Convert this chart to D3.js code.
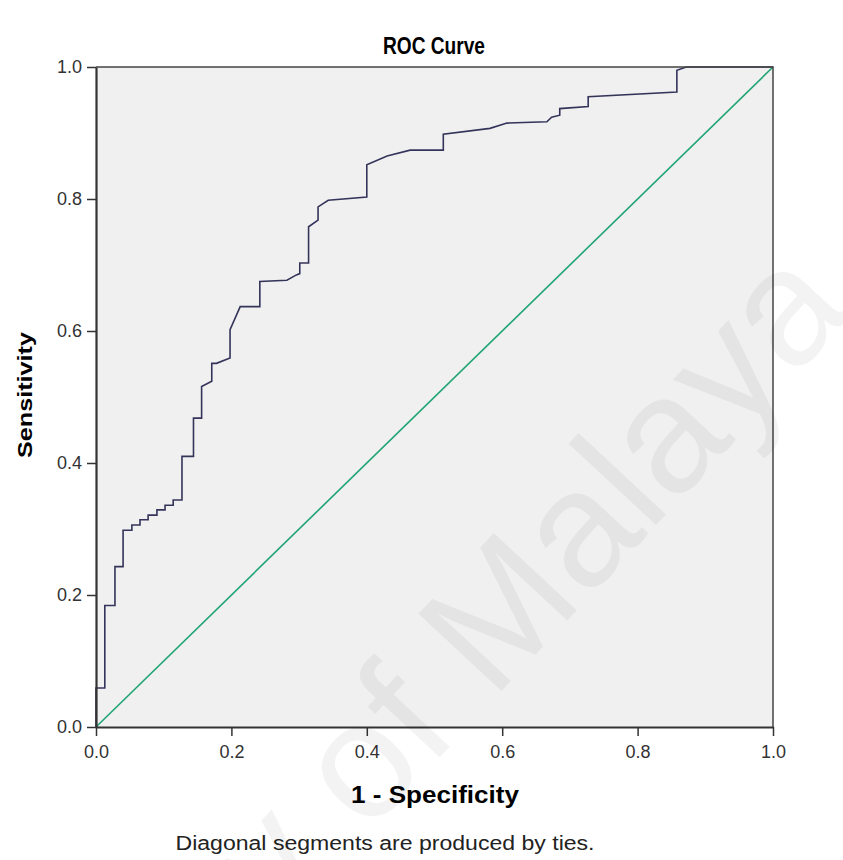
<!DOCTYPE html>
<html>
<head>
<meta charset="utf-8">
<script src="https://cdn.jsdelivr.net/npm/d3@7"></script>
<style>
  body { margin: 0; background: #fff; }
  text { font-family: "Liberation Sans", Arial, sans-serif; }
</style>
</head>
<body>
<script>
// ROC points (1 - specificity, sensitivity)
var fpr = [0, 0, 0.013, 0.013, 0.028, 0.028, 0.040, 0.040,
  0.053, 0.053, 0.065, 0.065, 0.077, 0.077, 0.090, 0.090, 0.102, 0.102, 0.114, 0.114, 0.127, 0.127,
  0.144, 0.144, 0.156, 0.156, 0.171, 0.171, 0.178, 0.198, 0.198, 0.213, 0.242, 0.242, 0.282, 0.296,
  0.301, 0.301, 0.314, 0.314, 0.328, 0.328, 0.343, 0.400, 0.400, 0.430, 0.464, 0.513, 0.513,
  0.582, 0.607, 0.666, 0.673, 0.685, 0.685, 0.727, 0.727, 0.858, 0.858, 0.872, 1.0];
var tpr = [0, 0.059, 0.059, 0.184, 0.184, 0.243, 0.243, 0.298,
  0.298, 0.306, 0.306, 0.314, 0.314, 0.321, 0.321, 0.329, 0.329, 0.336, 0.336, 0.344, 0.344, 0.410,
  0.410, 0.468, 0.468, 0.516, 0.524, 0.551, 0.551, 0.559, 0.602, 0.637, 0.637, 0.675, 0.677, 0.685,
  0.687, 0.703, 0.703, 0.758, 0.768, 0.788, 0.798, 0.803, 0.852, 0.865, 0.874, 0.874, 0.898,
  0.907, 0.915, 0.917, 0.924, 0.927, 0.937, 0.940, 0.955, 0.962, 0.995, 1.0, 1.0];
var ticks = [0, 0.2, 0.4, 0.6, 0.8, 1.0];

var W = 843, H = 860;
var svg = d3.select("body").append("svg")
    .attr("width", W)
    .attr("height", H);

var x = d3.scaleLinear().domain([0, 1]).range([96, 773]);
var y = d3.scaleLinear().domain([0, 1]).range([727, 67]);

// plot background
svg.append("rect")
    .attr("x", x(0)).attr("y", y(1))
    .attr("width", x(1) - x(0)).attr("height", y(0) - y(1))
    .attr("fill", "#f0f0f0");

// reference diagonal
svg.append("line")
    .attr("x1", x(0)).attr("y1", y(0))
    .attr("x2", x(1)).attr("y2", y(1))
    .attr("stroke", "#1fa474")
    .attr("stroke-width", 1.6);

// ROC curve
var pts = fpr.map(function(d, i) { return [d, tpr[i]]; });
var line = d3.line()
    .x(function(d) { return x(d[0]); })
    .y(function(d) { return y(d[1]); });
svg.append("path")
    .datum(pts)
    .attr("d", line)
    .attr("fill", "none")
    .attr("stroke", "#34345a")
    .attr("stroke-width", 1.6);

// frame (top, right)
svg.append("path")
    .attr("d", "M" + x(0) + "," + y(1) + "H" + x(1) + "V" + y(0))
    .attr("fill", "none")
    .attr("stroke", "#444")
    .attr("stroke-width", 1.5);

var xAxis = svg.append("g")
    .attr("transform", "translate(0," + y(0) + ")")
    .call(d3.axisBottom(x).tickValues(ticks).tickFormat(d3.format(".1f")).tickSize(9).tickSizeOuter(0));
var yAxis = svg.append("g")
    .attr("transform", "translate(" + x(0) + ",0)")
    .call(d3.axisLeft(y).tickValues(ticks).tickFormat(d3.format(".1f")).tickSize(9).tickSizeOuter(0));

[xAxis, yAxis].forEach(function(g) {
  g.select(".domain").attr("stroke", "#333").attr("stroke-width", 2.2);
  g.selectAll(".tick line").attr("stroke", "#333").attr("stroke-width", 1.5);
  g.selectAll(".tick text")
    .style("font-family", "'Liberation Sans', Arial, sans-serif")
    .style("font-size", "18px")
    .attr("fill", "#333");
});
xAxis.selectAll(".tick text").attr("y", 31).attr("dy", 0);
yAxis.selectAll(".tick text").attr("x", -14);

// titles
svg.append("text")
    .attr("x", 434).attr("y", 54)
    .attr("text-anchor", "middle")
    .attr("textLength", 102).attr("lengthAdjust", "spacingAndGlyphs")
    .style("font-size", "23px").style("font-weight", "bold")
    .text("ROC Curve");

svg.append("text")
    .attr("x", 435).attr("y", 803)
    .attr("text-anchor", "middle")
    .attr("textLength", 168).attr("lengthAdjust", "spacingAndGlyphs")
    .style("font-size", "23px").style("font-weight", "bold")
    .text("1 - Specificity");

svg.append("text")
    .attr("transform", "translate(32,395) rotate(-90)")
    .attr("text-anchor", "middle")
    .attr("textLength", 126).attr("lengthAdjust", "spacingAndGlyphs")
    .style("font-size", "21px").style("font-weight", "bold")
    .text("Sensitivity");

svg.append("text")
    .attr("x", 385).attr("y", 850)
    .attr("text-anchor", "middle")
    .attr("textLength", 419).attr("lengthAdjust", "spacingAndGlyphs")
    .style("font-size", "20px")
    .attr("fill", "#222")
    .text("Diagonal segments are produced by ties.");

// faint watermark
svg.append("text")
    .attr("transform", "translate(855,312) rotate(-47)")
    .attr("text-anchor", "end")
    .style("font-size", "165px")
    .attr("fill", "#000")
    .attr("opacity", 0.045)
    .text("University of Malaya");
</script>
</body>
</html>
